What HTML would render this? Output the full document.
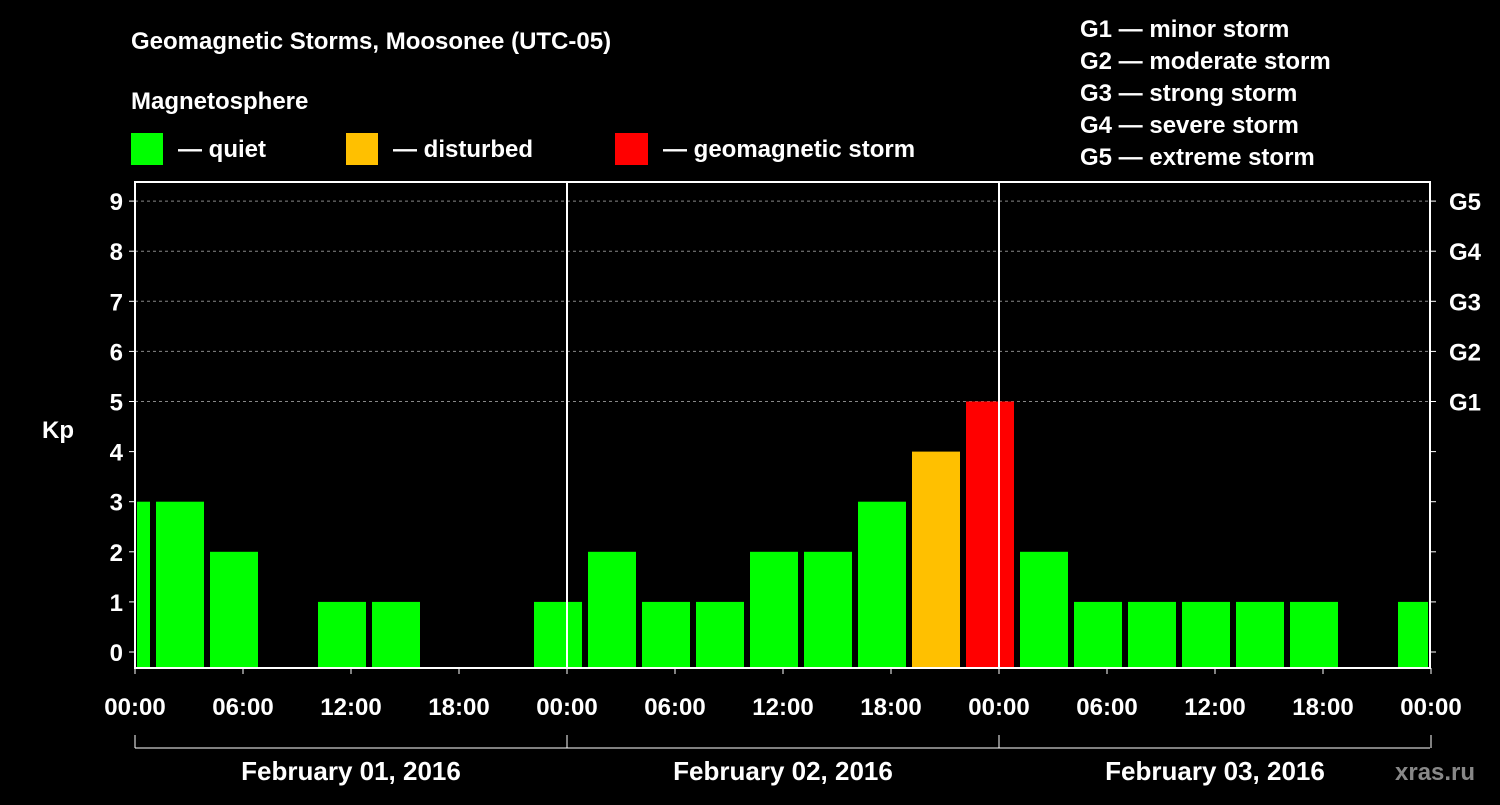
<!DOCTYPE html>
<html><head><meta charset="utf-8"><style>
body{margin:0;background:#000;}
svg text{font-family:"Liberation Sans",Arial,sans-serif;font-weight:bold;fill:#fff;}
</style></head><body>
<svg id="chart" width="1500" height="800" xmlns="http://www.w3.org/2000/svg">
<rect width="1500" height="800" fill="#000"/>
<text x="131" y="49" font-size="24">Geomagnetic Storms, Moosonee (UTC-05)</text>
<text x="131" y="109" font-size="24">Magnetosphere</text>
<rect x="131" y="133" width="32" height="32" fill="#00ff00"/>
<text x="178" y="157" font-size="24">— quiet</text>
<rect x="346" y="133" width="32" height="32" fill="#ffc000"/>
<text x="393" y="157" font-size="24">— disturbed</text>
<rect x="615" y="133" width="33" height="32" fill="#ff0000"/>
<text x="663" y="157" font-size="24">— geomagnetic storm</text>
<g font-size="24">
<text x="1080" y="37">G1 — minor storm</text>
<text x="1080" y="69">G2 — moderate storm</text>
<text x="1080" y="101">G3 — strong storm</text>
<text x="1080" y="133">G4 — severe storm</text>
<text x="1080" y="165">G5 — extreme storm</text>
</g>
<text x="42" y="438" font-size="24">Kp</text>
<text x="1395" y="780" font-size="24" style="fill:#888">xras.ru</text>
<g id="plot"></g>
</svg>
<script>
const kpValues=[3,3,2,0,1,1,0,0,1,2,1,1,2,2,3,4,5,2,1,1,1,1,1,0,1];
const xTickLabels=["00:00","06:00","12:00","18:00","00:00","06:00","12:00","18:00","00:00","06:00","12:00","18:00","00:00"];
const dayLabels=["February 01, 2016","February 02, 2016","February 03, 2016"];
const gLabels=["G1","G2","G3","G4","G5"];
const L=135,R=1430,T=182,B=668;
const xs=h=>L+h*18; // hours since start
const ys=v=>652-v*50.1;
const NS="http://www.w3.org/2000/svg";
const g=document.getElementById('plot');
function mk(t,a){const e=document.createElementNS(NS,t);for(const k in a)e.setAttribute(k,a[k]);g.appendChild(e);return e;}
// gridlines
for(let v=5;v<=9;v++){const e=mk('line',{x1:L,x2:R,y1:ys(v),y2:ys(v),stroke:'#888','stroke-dasharray':'3,3','stroke-width':1});

}
// bars
kpValues.forEach((v,k)=>{if(v<=0)return;
let x0=xs(3*k-2)+3,x1=x0+48;x0=Math.max(x0,L+2);x1=Math.min(x1,R-2);
const c=v>=5?'#ff0000':(v>=4?'#ffc000':'#00ff00');
const r=mk('rect',{x:x0,y:ys(v),width:x1-x0,height:B-ys(v),fill:c});

});
// frame
const f=mk('rect',{x:L,y:T,width:R-L,height:B-T,fill:'none',stroke:'#fff','stroke-width':2});


[1,2].forEach(d=>{const l=mk('line',{x1:xs(24*d),x2:xs(24*d),y1:T,y2:B,stroke:'#fff','stroke-width':2});

});
// y ticks
for(let v=0;v<=9;v++){
mk('line',{x1:L-6,x2:L,y1:ys(v),y2:ys(v),stroke:'#fff','stroke-width':1});
mk('line',{x1:R,x2:R+6,y1:ys(v),y2:ys(v),stroke:'#fff','stroke-width':1});
const t=mk('text',{x:L-12,y:ys(v)+9,'font-size':24,'text-anchor':'end'});t.textContent=v;

}
gLabels.forEach((s,i)=>{const t=mk('text',{x:R+19,y:ys(5+i)+9,'font-size':24});t.textContent=s;

});
// x ticks
xTickLabels.forEach((s,i)=>{const x=xs(6*i);
mk('line',{x1:x,x2:x,y1:B,y2:B+6,stroke:'#fff','stroke-width':1});
const t=mk('text',{x:x,y:715,'font-size':24,'text-anchor':'middle'});t.textContent=s;

});
// date bracket
mk('line',{x1:L,x2:R,y1:748,y2:748,stroke:'#fff','stroke-width':1});
for(let d=0;d<=3;d++)mk('line',{x1:xs(24*d),x2:xs(24*d),y1:735,y2:748,stroke:'#fff','stroke-width':1});
dayLabels.forEach((s,i)=>{const t=mk('text',{x:xs(24*i+12),y:780,'font-size':26,'text-anchor':'middle'});t.textContent=s;

});
</script>
</body></html>
